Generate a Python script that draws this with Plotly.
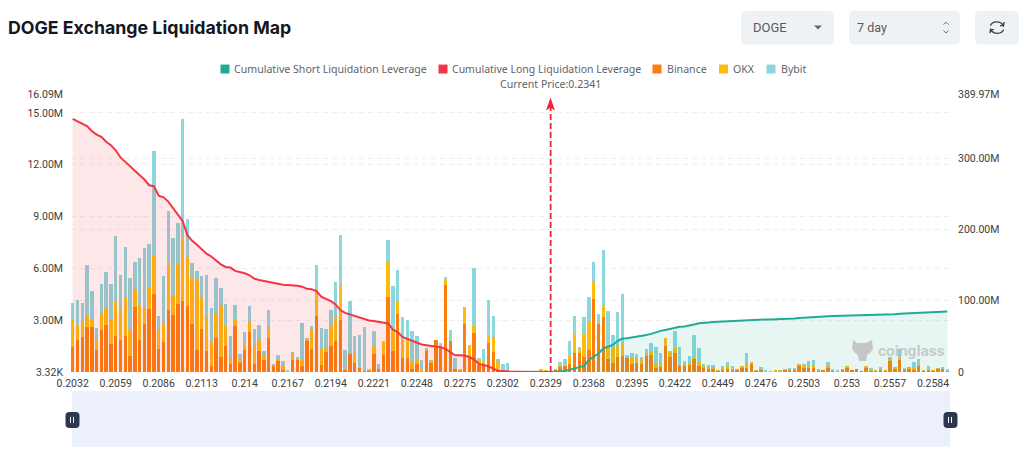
import plotly.graph_objects as go

prices = [
    "0.2032", "0.2035", "0.2038", "0.2041", "0.2044", "0.2047", "0.205", "0.2053", "0.2056", "0.2059",
    "0.2062", "0.2065", "0.2068", "0.2071", "0.2074", "0.2077", "0.208", "0.2083", "0.2086", "0.2089",
    "0.2092", "0.2095", "0.2098", "0.2101", "0.2104", "0.2107", "0.211", "0.2113", "0.2116", "0.2119",
    "0.2122", "0.2125", "0.2128", "0.2131", "0.2134", "0.2137", "0.214", "0.2143", "0.2146", "0.2149",
    "0.2152", "0.2155", "0.2158", "0.2161", "0.2164", "0.2167", "0.217", "0.2173", "0.2176", "0.2179",
    "0.2182", "0.2185", "0.2188", "0.2191", "0.2194", "0.2197", "0.22", "0.2203", "0.2206", "0.2209",
    "0.2212", "0.2215", "0.2218", "0.2221", "0.2224", "0.2227", "0.223", "0.2233", "0.2236", "0.2239",
    "0.2242", "0.2245", "0.2248", "0.2251", "0.2254", "0.2257", "0.226", "0.2263", "0.2266", "0.2269",
    "0.2272", "0.2275", "0.2278", "0.2281", "0.2284", "0.2287", "0.229", "0.2293", "0.2296", "0.2299",
    "0.2302", "0.2305", "0.2308", "0.2311", "0.2314", "0.2317", "0.232", "0.2323", "0.2326", "0.2329",
    "0.2341", "0.2345", "0.2348", "0.2351", "0.2354", "0.2358", "0.2361", "0.2365", "0.2368", "0.2371",
    "0.2374", "0.2377", "0.238", "0.2383", "0.2386", "0.2389", "0.2392", "0.2395", "0.2398", "0.2401",
    "0.2404", "0.2407", "0.241", "0.2413", "0.2416", "0.2419", "0.2422", "0.2425", "0.2428", "0.2431",
    "0.2434", "0.2437", "0.244", "0.2443", "0.2446", "0.2449", "0.2452", "0.2455", "0.2458", "0.2461",
    "0.2464", "0.2467", "0.247", "0.2473", "0.2476", "0.2479", "0.2482", "0.2485", "0.2488", "0.2491",
    "0.2494", "0.2497", "0.25", "0.2503", "0.2506", "0.2509", "0.2512", "0.2515", "0.2518", "0.2521",
    "0.2524", "0.2527", "0.253", "0.2533", "0.2536", "0.2539", "0.2542", "0.2545", "0.2548", "0.2551",
    "0.2554", "0.2557", "0.256", "0.2563", "0.2566", "0.2569", "0.2572", "0.2575", "0.2578", "0.2581",
    "0.2584", "0.2587", "0.259", "0.2593",
]

# millions
binance = [
    1.43, 1.84, 2.01, 2.59, 2.59, 1.29, 2.45, 2.71, 1.64, 2.11,
    1.87, 2.07, 0.95, 3.75, 1.87, 2.80, 3.67, 4.54, 1.35, 1.74,
    3.61, 3.32, 3.96, 4.10, 3.81, 2.80, 1.29, 2.49, 1.24, 0.37,
    1.97, 0.89, 1.53, 0.48, 2.65, 0.52, 1.29, 2.32, 0.48, 1.20,
    0.71, 1.97, 0.37, 0.68, 0.14, 0.04, 0.68, 0.68, 0.37, 1.84,
    1.33, 3.27, 0.39, 1.14, 1.53, 1.78, 3.03, 0.14, 1.06, 0.52,
    0.23, 0.04, 0.10, 1.06, 0.17, 1.00, 4.33, 1.20, 3.38, 0.81,
    0.79, 0.19, 0.46, 0.02, 1.24, 0.56, 1.87, 1.39, 5.02, 1.78,
    0.19, 0.08, 2.80, 0.83, 2.28, 0.43, 0.52, 1.68, 1.16, 0.14,
    0.02, 0.01, 0.01, 0.01, 0.01, 0.01, 0.01, 0.01, 0.08, 0.04,
    0.02, 0.12, 0.31, 0.35, 0.46, 1.08, 1.12, 0.85, 1.28, 4.21,
    2.82, 3.17, 0.75, 0.50, 0.89, 0.93, 0.85, 0.46, 0.50, 0.46,
    0.93, 0.99, 0.23, 0.31, 1.51, 0.89, 1.12, 0.35, 0.35, 0.39,
    0.75, 0.35, 0.23, 0.19, 0.23, 0.06, 0.12, 0.19, 0.12, 0.12,
    0.27, 0.25, 0.50, 0.08, 0.15, 0.04, 0.02, 0.04, 0.04, 0.15,
    0.12, 0.12, 0.39, 0.23, 0.21, 0.27, 0.08, 0.06, 0.27, 0.06,
    0.01, 0.12, 0.27, 0.08, 0.15, 0.01, 0.27, 0.10, 0.06, 0.12,
    0.06, 0.66, 0.23, 0.73, 0.12, 0.23, 0.15, 0.35, 0.06, 0.15,
    0.08, 0.19, 0.19, 0.06,
]
okx = [
    1.64, 0.85, 0.89, 0.71, 0.43, 0.62, 0.97, 1.04, 1.41, 1.97,
    1.78, 2.28, 1.51, 1.02, 1.93, 0.97, 1.20, 2.16, 1.06, 1.10,
    2.71, 1.10, 2.36, 3.63, 2.84, 2.63, 4.06, 1.84, 1.95, 1.41,
    1.39, 3.01, 1.16, 0.39, 0.35, 0.23, 0.39, 0.62, 1.00, 0.68,
    0.25, 0.64, 0.02, 0.04, 0.23, 0.00, 0.43, 0.12, 0.35, 0.08,
    1.12, 1.51, 0.95, 0.29, 1.16, 1.41, 1.99, 0.00, 0.04, 0.58,
    0.00, 0.00, 0.02, 0.43, 0.00, 0.77, 2.09, 1.26, 0.71, 1.06,
    1.04, 0.43, 0.25, 0.08, 0.06, 0.06, 0.00, 0.21, 0.33, 0.00,
    0.00, 0.04, 0.99, 0.70, 0.37, 0.29, 0.04, 0.41, 0.87, 0.52,
    0.08, 0.00, 0.00, 0.00, 0.00, 0.00, 0.00, 0.00, 0.04, 0.04,
    0.00, 0.04, 0.08, 0.00, 0.46, 1.12, 0.25, 1.33, 1.59, 1.08,
    0.04, 0.71, 0.72, 0.97, 0.68, 0.70, 0.06, 0.39, 0.39, 0.33,
    0.19, 0.19, 0.27, 0.23, 0.44, 0.27, 0.27, 0.04, 0.21, 0.12,
    0.14, 0.23, 0.17, 0.15, 0.08, 0.02, 0.15, 0.19, 0.08, 0.04,
    0.04, 0.25, 0.04, 0.02, 0.04, 0.00, 0.02, 0.06, 0.08, 0.02,
    0.04, 0.04, 0.08, 0.15, 0.17, 0.06, 0.04, 0.00, 0.08, 0.00,
    0.00, 0.04, 0.04, 0.00, 0.00, 0.00, 0.02, 0.04, 0.02, 0.08,
    0.02, 0.12, 0.04, 0.06, 0.08, 0.02, 0.06, 0.04, 0.04, 0.04,
    0.02, 0.02, 0.02, 0.00,
]
bybit = [
    0.93, 1.47, 1.10, 2.92, 1.68, 0.62, 1.68, 2.01, 2.07, 3.79,
    1.99, 2.90, 2.96, 1.60, 2.78, 3.42, 2.53, 6.07, 0.85, 2.71,
    3.01, 3.36, 2.32, 6.94, 2.18, 0.89, 0.52, 1.22, 2.45, 1.93,
    2.09, 0.99, 1.22, 1.24, 0.89, 0.29, 0.64, 0.87, 1.02, 0.85,
    0.27, 1.00, 0.02, 0.27, 0.25, 0.04, 0.04, 0.02, 2.09, 0.02,
    0.23, 1.39, 1.22, 1.08, 0.87, 2.03, 2.90, 1.16, 3.03, 1.00,
    1.93, 2.55, 0.02, 0.91, 0.31, 0.02, 1.20, 2.53, 1.84, 1.31,
    1.20, 1.74, 1.35, 0.58, 0.04, 0.02, 0.00, 0.08, 0.14, 0.64,
    0.62, 0.02, 0.00, 0.02, 3.36, 0.04, 0.79, 2.05, 1.22, 0.04,
    0.35, 0.52, 0.00, 0.00, 0.00, 0.00, 0.00, 0.00, 0.00, 0.00,
    0.00, 0.00, 0.21, 0.39, 0.89, 1.04, 0.10, 0.99, 1.47, 1.10,
    0.50, 3.19, 2.07, 0.68, 1.90, 2.88, 0.04, 0.27, 0.14, 0.10,
    0.19, 0.52, 0.97, 0.54, 0.00, 0.02, 1.00, 1.08, 0.02, 0.39,
    1.24, 0.79, 0.06, 0.06, 0.06, 0.00, 0.04, 0.21, 0.12, 0.00,
    0.00, 0.58, 0.00, 0.00, 0.08, 0.08, 0.00, 0.00, 0.00, 0.00,
    0.06, 0.08, 0.00, 0.04, 0.27, 0.35, 0.00, 0.00, 0.23, 0.10,
    0.06, 0.00, 0.00, 0.00, 0.00, 0.00, 0.00, 0.04, 0.00, 0.10,
    0.00, 0.04, 0.00, 0.56, 0.02, 0.00, 0.37, 0.37, 0.00, 0.14,
    0.00, 0.00, 0.04, 0.06,
]

# millions
cum_long = [
    355, 352, 349, 345, 338, 333, 330, 323, 318, 311,
    301, 295, 289, 283, 277, 270, 262, 260.6, 247.4, 245,
    239, 229.6, 221.6, 212, 192, 184, 178.4, 172.3, 166, 162,
    155.9, 151, 147.4, 146.5, 141.8, 140.4, 138.5, 135.7, 131, 129,
    127.7, 125.4, 124.4, 123.5, 122.5, 122, 122, 121, 119.7, 116.9,
    116, 113.6, 105.6, 102.8, 99.5, 94.8, 86.9, 83, 80.8, 77.9,
    76, 74, 72.3, 71.4, 70, 69, 68, 59.6, 55.9, 49.3,
    46.5, 44.6, 41.8, 38.5, 37.6, 36.6, 36.2, 34.7, 32.4, 27.7,
    23.5, 23.5, 23, 21, 17.4, 11.3, 9.9, 8, 4.7, 1.9,
    1.4, 0.5, 0.4, 0.3, 0.3, 0.2, 0.2, 0.1, 0.1, 0.05,
    0,
]
cum_short = [
    0, 0.5, 1, 1.4, 3.3, 5.2, 6.6, 8.5, 17, 21.6,
    26, 33, 35.7, 38, 43.7, 47, 47.4, 48.4, 49.3, 50.7,
    52, 53.5, 55.9, 57.7, 59, 60.6, 62.4, 63.4, 63.8, 64.8,
    66.7, 68.5, 69.5, 69.5, 70, 70.4, 70.4, 70.9, 71.4, 71.4,
    71.8, 72.8, 73, 73.2, 73.4, 73.6, 73.7, 73.8, 74, 74.2,
    74.6, 75, 75.6, 76.2, 76.8, 77.2, 77.6, 78, 78.3, 78.4,
    78.6, 78.8, 79, 79, 79.1, 79.2, 79.3, 79.5, 79.7, 79.8,
    79.9, 80.3, 81, 81.6, 82, 82.4, 83, 83.5, 84, 84.3,
    84.5, 84.7, 84.9, 85,
]

left_ticks = [0.00332, 3, 6, 9, 12, 15, 16.09]
left_labels = ["3.32K", "3.00M", "6.00M", "9.00M", "12.00M", "15.00M", "16.09M"]
right_ticks = [0, 100, 200, 300, 389.97]
right_labels = ["0", "100.00M", "200.00M", "300.00M", "389.97M"]

current_price = "0.2341"
current_idx = prices.index(current_price)

# plot box in page pixels
L, R, T, B = 71, 950, 93.5, 372


def px(x):
    return (x - L) / (R - L)


def py(y):
    return (B - y) / (B - T)


def p(x, y):
    return f"{px(x):.5f},{py(y):.5f}"


def rrect(x0, y0, x1, y1, r):
    return (
        f"M{p(x0 + r, y0)} L{p(x1 - r, y0)} Q{p(x1, y0)} {p(x1, y0 + r)} "
        f"L{p(x1, y1 - r)} Q{p(x1, y1)} {p(x1 - r, y1)} L{p(x0 + r, y1)} "
        f"Q{p(x0, y1)} {p(x0, y1 - r)} L{p(x0, y0 + r)} Q{p(x0, y0)} {p(x0 + r, y0)} Z"
    )


def box(path, fill, line="rgba(0,0,0,0)", width=0, layer="above"):
    return dict(type="path", xref="paper", yref="paper", path=path, fillcolor=fill,
                line=dict(color=line, width=width), layer=layer)


def label(x, y, text, size=10.6, color="#5f6368", family="Noto Sans", anchor="left", **kw):
    # annotation box adds about 2px of padding on the left
    if anchor == "left":
        x = x - 2
    return dict(xref="paper", yref="paper", x=px(x), y=py(y), text=text, showarrow=False,
                xanchor=anchor, yanchor="middle", font=dict(size=size, color=color, family=family), **kw)


fig = go.Figure()

fig.add_trace(go.Bar(name="Binance", x=prices, y=binance, marker=dict(color="#FB7F0C", line_width=0)))
fig.add_trace(go.Bar(name="OKX", x=prices, y=okx, marker=dict(color="#FDBB0E", line_width=0)))
fig.add_trace(go.Bar(name="Bybit", x=prices, y=bybit, marker=dict(color="#8CD7DB", line_width=0)))

fig.add_trace(go.Scatter(
    name="Cumulative Long Liquidation Leverage", x=prices[:len(cum_long)], y=cum_long, yaxis="y2",
    mode="lines", line=dict(color="#F23645", width=2), fill="tozeroy", fillcolor="rgba(242,54,69,0.12)",
))
fig.add_trace(go.Scatter(
    name="Cumulative Short Liquidation Leverage", x=prices[-len(cum_short):], y=cum_short, yaxis="y2",
    mode="lines", line=dict(color="#22AB94", width=2), fill="tozeroy", fillcolor="rgba(34,171,148,0.11)",
))

shapes = [
    # current price marker
    dict(type="line", xref="x", yref="paper", x0=current_idx, x1=current_idx, y0=0, y1=py(106),
         line=dict(color="#F0243C", width=1.8, dash="6px,3px")),
    dict(type="path", xref="paper", yref="paper", fillcolor="#F0243C", line_width=0,
         path=f"M{p(550.5, 97)} L{p(555, 110)} L{p(550.5, 107)} L{p(546, 110)} Z"),
    # zoom slider
    box(f"M{p(72, 391)} L{p(950, 391)} L{p(950, 447)} L{p(72, 447)} Z", "#EBF0FC"),
    box(rrect(65.5, 412, 79.5, 428, 4), "#2B3650"),
    box(rrect(943.5, 412, 957.5, 428, 4), "#2B3650"),
    # toolbar boxes
    box(rrect(741, 10, 834, 44, 5), "#EFF2F5"),
    box(rrect(849, 10, 960, 44, 5), "#EFF2F5"),
    box(rrect(975, 10, 1019, 44, 5), "#EFF2F5"),
    box(f"M{p(814, 25)} L{p(822, 25)} L{p(818, 29)} Z", "#666666"),
    dict(type="path", xref="paper", yref="paper", line=dict(color="#666666", width=1),
         path=f"M{p(943.5, 24)} L{p(946, 21.5)} L{p(948.5, 24)} M{p(943.5, 30)} L{p(946, 32.5)} L{p(948.5, 30)}"),
    # refresh icon
    dict(type="path", xref="paper", yref="paper", line=dict(color="#3c4043", width=1.4),
         path=f"M{p(990.5, 25)} C{p(992, 20.5)} {p(1000, 19.5)} {p(1003.5, 25)} L{p(1004, 21.5)} M{p(1003.5, 25)} L{p(1000, 25)}"),
    dict(type="path", xref="paper", yref="paper", line=dict(color="#3c4043", width=1.4),
         path=f"M{p(1003.5, 29)} C{p(1002, 33.5)} {p(994, 34.5)} {p(990.5, 29)} L{p(990, 32.5)} M{p(990.5, 29)} L{p(994, 29)}"),
    # watermark logo
    box(f"M{p(853, 340)} L{p(857, 343)} L{p(866, 343)} L{p(872, 340)} L{p(873, 349)} L{p(870, 353)} "
        f"L{p(867, 355)} L{p(866, 361)} L{p(859, 361)} L{p(858, 355)} L{p(855, 353)} L{p(852, 349)} Z",
        "rgba(190,190,190,0.85)"),
]
for x0, x1, color in [(220.5, 229.5, "#22AB94"), (438.5, 447.5, "#F23645"), (652.5, 661.5, "#FB7F0C"),
                      (719, 728, "#FDBB0E"), (766.5, 775.5, "#8CD7DB")]:
    shapes.append(box(f"M{p(x0, 64)} L{p(x1, 64)} L{p(x1, 73)} L{p(x0, 73)} Z", color))
for x in (70.5, 73.5, 948.5, 951.5):
    shapes.append(dict(type="line", xref="paper", yref="paper", x0=px(x), x1=px(x), y0=py(417), y1=py(423),
                       line=dict(color="#FFFFFF", width=1)))

annotations = [
    label(8, 27, "<b>DOGE Exchange Liquidation Map</b>", size=17.75, color="#14171f", family="Inter"),
    label(753, 27, "DOGE", size=13, color="#555b63", family="Roboto"),
    label(857, 27, "7 day", size=12.5, color="#555b63", family="Roboto"),
    label(234, 68.5, "Cumulative Short Liquidation Leverage"),
    label(452, 68.5, "Cumulative Long Liquidation Leverage", size=10.5),
    label(666.5, 68.5, "Binance"),
    label(733, 68.5, "OKX"),
    label(780.5, 68.5, "Bybit"),
    label(550, 83, f"Current Price:{current_price}", anchor="center"),
    label(878, 351, "<b>coinglass</b>", size=15.5, color="rgba(190,190,190,0.8)", family="Roboto"),
]

fig.update_layout(
    width=1024,
    height=465,
    margin=dict(l=L, r=1024 - R, t=T, b=465 - B, pad=0),
    paper_bgcolor="white",
    plot_bgcolor="white",
    barmode="stack",
    bargap=0.28,
    showlegend=False,
    font=dict(family="Roboto", size=10.5, color="#3d3d3d"),
    xaxis=dict(
        type="category",
        categoryorder="array",
        categoryarray=prices,
        range=[-0.35, 183.55],
        tickmode="linear",
        tick0=0,
        dtick=9,
        tickangle=0,
        ticks="",
        showgrid=False,
        zeroline=False,
        showline=False,
        ticklabelstandoff=3,
    ),
    yaxis=dict(
        range=[0, 16.09],
        tickvals=left_ticks,
        ticktext=left_labels,
        ticks="",
        showline=False,
        zeroline=False,
        gridcolor="#EFEFEF",
        griddash="5px,4px",
        gridwidth=1,
        ticklabelstandoff=7,
    ),
    yaxis2=dict(
        range=[0, 389.97],
        overlaying="y",
        side="right",
        tickvals=right_ticks,
        ticktext=right_labels,
        ticks="",
        showline=False,
        zeroline=False,
        gridcolor="#EFEFEF",
        griddash="5px,4px",
        gridwidth=1,
        ticklabelstandoff=7,
    ),
    shapes=shapes,
    annotations=annotations,
)

# page margin would shift the pixel layout
fig.write_html("out.html", config={"displayModeBar": False}, post_script="document.body.style.margin='0';")
